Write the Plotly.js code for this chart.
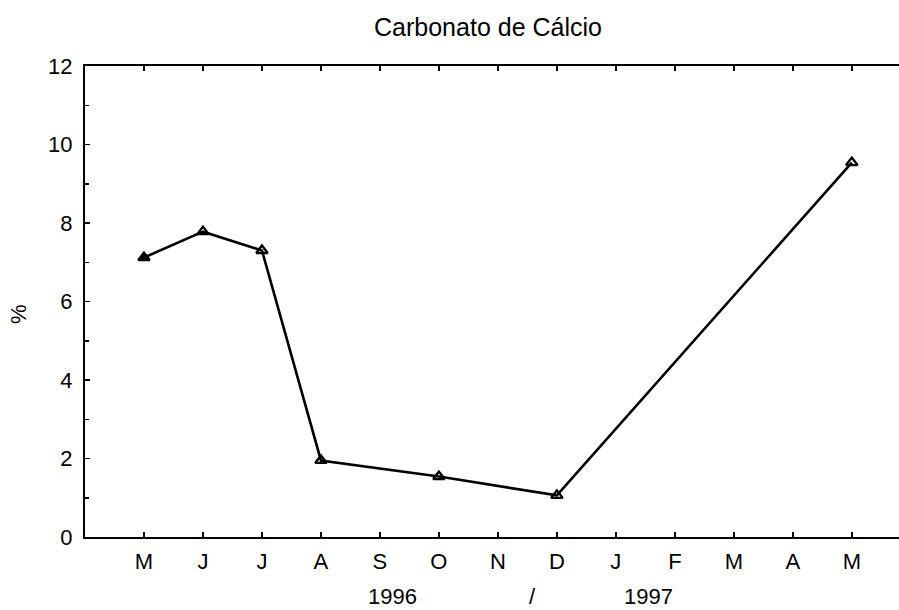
<!DOCTYPE html>
<html>
<head>
<meta charset="utf-8">
<script src="https://cdn.plot.ly/plotly-3.0.1.min.js"></script>
<style>html,body{margin:0;padding:0;background:#fff;}#chart{width:899px;height:610px;}</style>
</head>
<body>
<div id="chart"></div>
<script>
// Month tick labels (May 1996 .. May 1997)
const monthLabels = ["M","J","J","A","S","O","N","D","J","F","M","A","M"];
const monthPositions = [1,2,3,4,5,6,7,8,9,10,11,12,13];
// Sampled months (positions on the month axis) and CaCO3 values (%)
const sampleMonths = [1,2,3,4,6,8,13];
const calcioPct = [7.12,7.78,7.30,1.95,1.54,1.06,9.54];
const markerSymbols = ["triangle-up","triangle-up-open","triangle-up-open","triangle-up-open","triangle-up-open","triangle-up-open","triangle-up-open"];
const yearLabels = ["1996","/","1997"];
const yearLabelPos = [5.22,7.58,9.56];

const font = "Liberation Sans, Arial, sans-serif";

const trace = {
  x: sampleMonths, y: calcioPct, type: "scatter", mode: "lines+markers",
  line: {color: "#000", width: 2.6},
  marker: {symbol: markerSymbols, size: 10, color: "#000", line: {color: "#000", width: 2.3}},
  cliponaxis: false, showlegend: false
};

const annotations = yearLabels.map((t, i) => ({
  text: t, x: yearLabelPos[i], xref: "x", y: -(596 - 537) / 471, yref: "paper",
  showarrow: false, xanchor: "center", yanchor: "middle",
  font: {family: font, size: 22, color: "#000"}
}));
annotations.push({
  text: "%", textangle: -90, x: (18 - 85) / 814, xref: "paper", y: (537 - 314) / 471, yref: "paper",
  showarrow: false, xanchor: "center", yanchor: "middle",
  font: {family: font, size: 22, color: "#000"}
});

const layout = {
  width: 899, height: 610,
  margin: {l: 85, r: 0, t: 66, b: 73},
  paper_bgcolor: "#fff", plot_bgcolor: "#fff",
  font: {family: font, color: "#000"},
  title: {text: "Carbonato de Cálcio", x: 488/899, xref: "container", xanchor: "center",
          y: 1 - 27/610, yref: "container", yanchor: "middle",
          font: {family: font, size: 25, color: "#000"}},
  xaxis: {
    range: [0, 13.8], tickvals: monthPositions, ticktext: monthLabels,
    showgrid: false, zeroline: false, showline: true, linecolor: "#000", linewidth: 2.2,
    mirror: "ticks", ticks: "inside", ticklen: 5, tickcolor: "#000", tickwidth: 1.5,
    tickfont: {family: font, size: 22, color: "#000"}, ticklabelstandoff: 3
  },
  yaxis: {
    range: [0, 12], tickvals: [0,2,4,6,8,10,12],
    showgrid: false, zeroline: false, showline: true, linecolor: "#000", linewidth: 2.2,
    ticks: "inside", ticklen: 5, tickcolor: "#000", tickwidth: 1.5,
    minor: {dtick: 1, ticks: "inside", ticklen: 4, tickcolor: "#000", tickwidth: 1.5, showgrid: false},
    tickfont: {family: font, size: 22, color: "#000"}, ticklabelstandoff: 6
  },
  annotations: annotations
};

Plotly.newPlot("chart", [trace], layout, {displayModeBar: false, staticPlot: true});
</script>
</body>
</html>
